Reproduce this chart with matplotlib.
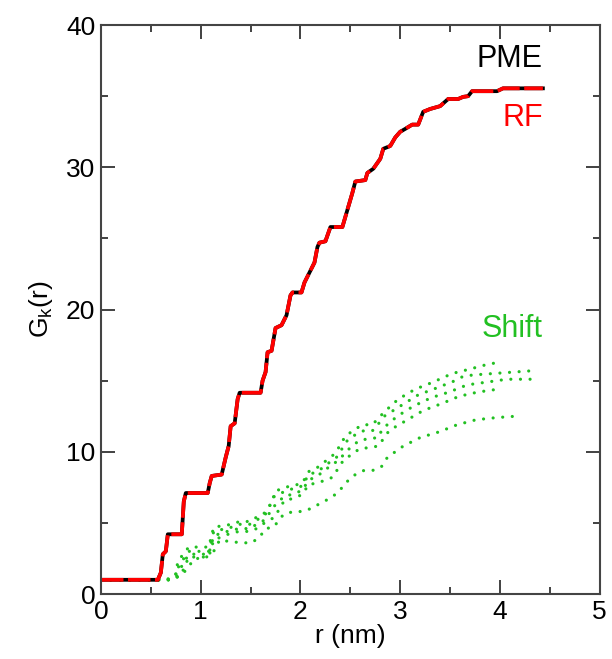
import matplotlib
matplotlib.use('Agg')
import matplotlib.pyplot as plt

plt.rcParams['font.family'] = ['Liberation Sans', 'DejaVu Sans']
plt.rcParams['mathtext.fontset'] = 'custom'
plt.rcParams['mathtext.rm'] = 'Liberation Sans'
plt.rcParams['mathtext.it'] = 'Liberation Sans:italic'

# PME cumulative curve
pme_r = [0.0, 0.57, 0.60, 0.62, 0.65, 0.67, 0.81, 0.83, 0.85, 1.07, 1.09, 1.11,
         1.21, 1.23, 1.25, 1.28, 1.30, 1.34, 1.37, 1.39, 1.60, 1.62, 1.65, 1.67,
         1.71, 1.75, 1.81, 1.86, 1.90, 1.92, 2.01, 2.04, 2.09, 2.14, 2.17, 2.19,
         2.25, 2.30, 2.42, 2.47, 2.52, 2.55, 2.65, 2.67, 2.73, 2.80, 2.83, 2.90,
         2.95, 3.00, 3.05, 3.12, 3.18, 3.23, 3.30, 3.40, 3.48, 3.58, 3.63, 3.68,
         3.72, 3.97, 4.03, 4.43]
pme_g = [1.0, 1.0, 1.5, 2.8, 3.0, 4.2, 4.2, 6.5, 7.1, 7.1, 7.8, 8.3,
         8.4, 9.0, 9.6, 10.4, 11.8, 12.0, 13.7, 14.15, 14.15, 15.0, 15.6, 17.0,
         17.1, 18.7, 18.9, 19.6, 21.0, 21.2, 21.2, 21.9, 22.6, 23.3, 24.4, 24.7,
         24.8, 25.8, 25.8, 27.0, 28.2, 29.0, 29.1, 29.6, 29.9, 30.6, 31.3, 31.5,
         32.1, 32.5, 32.7, 33.0, 33.0, 33.9, 34.1, 34.3, 34.8, 34.8, 34.95, 35.0,
         35.35, 35.35, 35.55, 35.55]

# RF curve (overlaps PME)
rf_r = list(pme_r)
rf_g = list(pme_g)

# Shift curves
shift1_r = [0.0, 0.65, 0.75, 0.77, 0.88, 1.08, 1.13, 1.31, 1.39, 1.49, 1.56, 1.64, 1.72,
            1.74, 1.84, 1.92, 2.02, 2.08, 2.17, 2.28, 2.35, 2.40, 2.45, 2.53, 2.62, 2.72,
            2.84, 2.98, 3.15, 3.33, 3.52, 3.69, 3.85, 3.99]
shift1_g = [1.0, 1.0, 1.3, 2.3, 3.3, 3.3, 4.7, 4.9, 5.1, 5.1, 5.4, 5.7, 6.5,
            7.2, 7.5, 7.6, 7.8, 8.6, 8.9, 9.5, 9.9, 10.5, 11.1, 11.5, 11.9, 11.9,
            12.8, 13.7, 14.4, 14.9, 15.5, 15.8, 16.1, 16.3]
shift2_r = [0.0, 0.67, 0.76, 0.78, 0.88, 1.08, 1.13, 1.31, 1.39, 1.49, 1.56, 1.64, 1.74,
            1.84, 1.92, 2.02, 2.08, 2.17, 2.28, 2.36, 2.47, 2.55, 2.64, 2.73, 2.84, 3.02,
            3.18, 3.37, 3.55, 3.63, 3.73, 3.93, 4.13, 4.33]
shift2_g = [1.0, 1.0, 1.2, 2.0, 3.0, 3.0, 4.4, 4.7, 4.9, 4.9, 5.2, 5.5, 6.9,
            7.2, 7.4, 7.6, 8.4, 8.6, 9.2, 9.6, 10.8, 11.2, 11.5, 11.5, 12.5, 13.3,
            14.0, 14.5, 15.0, 15.3, 15.4, 15.5, 15.6, 15.7]
shift3_r = [0.0, 0.68, 0.78, 0.88, 1.08, 1.13, 1.31, 1.39, 1.49, 1.56, 1.64, 1.74, 1.84,
            1.92, 2.02, 2.08, 2.17, 2.28, 2.38, 2.50, 2.59, 2.67, 2.78, 2.82, 2.97, 3.13,
            3.31, 3.49, 3.67, 3.87, 4.07, 4.37]
shift3_g = [1.0, 1.0, 1.6, 2.8, 2.8, 4.1, 4.5, 4.6, 4.6, 4.9, 5.2, 6.2, 6.9,
            7.0, 7.3, 8.0, 8.3, 8.9, 9.4, 10.3, 10.8, 10.9, 11.0, 11.6, 12.5, 13.2,
            13.8, 14.2, 14.7, 14.9, 15.1, 15.1]
shift4_r = [0.0, 0.70, 0.80, 0.88, 1.08, 1.13, 1.31, 1.39, 1.49, 1.56, 1.64, 1.74, 1.84,
            1.92, 2.02, 2.08, 2.17, 2.32, 2.43, 2.51, 2.59, 2.69, 2.78, 2.89, 3.06, 3.23,
            3.42, 3.59, 3.78, 3.98]
shift4_g = [1.0, 1.0, 1.3, 2.6, 2.6, 3.8, 4.3, 4.4, 4.4, 4.6, 5.0, 5.4, 6.6,
            6.7, 7.0, 7.7, 7.8, 8.2, 9.4, 9.8, 10.2, 10.3, 10.4, 11.5, 12.2, 12.9,
            13.4, 13.9, 14.2, 14.4]
shift5_r = [0.0, 0.72, 0.83, 0.94, 1.04, 1.13, 1.19, 1.28, 1.41, 1.51, 1.59, 1.65, 1.73,
            1.83, 1.93, 2.02, 2.10, 2.18, 2.26, 2.35, 2.42, 2.48, 2.55, 2.64, 2.74, 2.82,
            2.87, 3.03, 3.20, 3.39, 3.57, 3.76, 3.96, 4.16]
shift5_g = [1.0, 1.0, 1.5, 2.5, 2.5, 3.0, 3.8, 3.7, 3.6, 3.6, 4.0, 4.6, 4.7,
            5.6, 5.8, 5.8, 6.0, 6.3, 6.6, 7.0, 7.5, 8.0, 8.4, 8.7, 8.7, 9.0,
            9.6, 10.4, 11.0, 11.4, 11.9, 12.25, 12.4, 12.5]

shift_curves = [(shift1_r, shift1_g), (shift2_r, shift2_g), (shift3_r, shift3_g),
                (shift4_r, shift4_g), (shift5_r, shift5_g)]

green = '#22c022'

fig = plt.figure(figsize=(6.12, 6.59), dpi=100)
ax = fig.add_axes([0.165, 0.0986, 0.815, 0.8634])

for r, g in shift_curves:
    ax.plot(r, g, color=green, lw=2.3, linestyle=(0, (0.01, 3.0)),
            dash_capstyle='round')

ax.plot(pme_r, pme_g, color='black', lw=2.7)
ax.plot(rf_r, rf_g, color='red', lw=2.7, linestyle=(0, (6, 1.2)))

ax.text(4.43, 37.6, 'PME', color='black', fontsize=22, ha='right', va='center')
ax.text(4.43, 33.5, 'RF', color='red', fontsize=22, ha='right', va='center')
ax.text(4.43, 18.6, 'Shift', color=green, fontsize=22, ha='right', va='center')

ax.set_xlim(0, 5)
ax.set_ylim(0, 40)
ax.set_xticks([0, 1, 2, 3, 4, 5])
ax.set_xticks([0.5, 1.5, 2.5, 3.5, 4.5], minor=True)
ax.set_yticks([0, 10, 20, 30, 40])
ax.set_yticks([5, 15, 25, 35], minor=True)
ax.tick_params(which='both', direction='in', top=True, right=True,
               labelsize=19, width=1.3, color='#333333', pad=4)
ax.tick_params(which='major', length=10)
ax.tick_params(which='minor', length=5)
for s in ax.spines.values():
    s.set_linewidth(1.5)
    s.set_color('#444444')

ax.set_xlabel('r (nm)', fontsize=19, labelpad=0)
ax.set_ylabel(r'G$_\mathrm{k}$(r)', fontsize=19, labelpad=8)

fig.savefig('out.png', dpi=100)
